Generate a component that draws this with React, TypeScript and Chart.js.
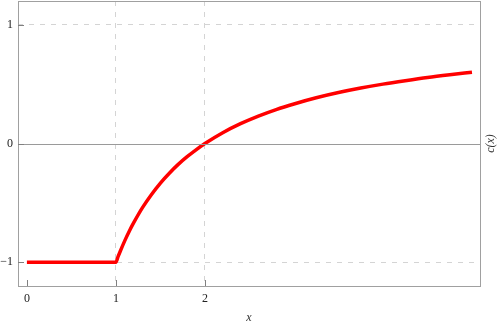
import React, { useEffect, useRef } from "react";
import { Chart, registerables } from "chart.js";

Chart.register(...registerables);

const xValues = [0, 1, 1.025, 1.05, 1.1, 1.15, 1.2, 1.3, 1.4, 1.5, 1.6, 1.7, 1.8, 1.9, 2, 2.2, 2.4, 2.6, 2.8, 3, 3.25, 3.5, 3.75, 4, 4.25, 4.5, 4.75, 5];
const cValues = [-1, -1, -0.951, -0.905, -0.818, -0.739, -0.667, -0.538, -0.429, -0.333, -0.25, -0.176, -0.111, -0.053, 0, 0.091, 0.167, 0.231, 0.286, 0.333, 0.385, 0.429, 0.467, 0.5, 0.529, 0.556, 0.579, 0.6];
const xTicks = [0, 1, 2];
const yTicks = [-1, 0, 1];
const xTitle = "x";
const yTitle = "c(x)";

const SERIF = "'Liberation Serif', 'Times New Roman', 'DejaVu Serif', serif";

const fmt = (v: number) => (v < 0 ? "\u2212" + Math.abs(v) : String(v));

const framePlugin = {
  id: "frame",
  afterDraw(chart: any) {
    const { ctx, chartArea: a, scales } = chart;
    const xs = scales.x;
    const ys = scales.y;
    ctx.save();
    ctx.strokeStyle = "#9a9a9a";
    ctx.lineWidth = 1;
    const y0 = Math.round(ys.getPixelForValue(0)) + 0.5;
    ctx.beginPath();
    ctx.moveTo(a.left, y0);
    ctx.lineTo(a.right, y0);
    ctx.stroke();
    ctx.strokeStyle = "#a0a0a0";
    ctx.strokeRect(Math.round(a.left) + 0.5, Math.round(a.top) + 0.5, Math.round(a.right - a.left), Math.round(a.bottom - a.top));
    ctx.strokeStyle = "#808080";
    ctx.beginPath();
    for (const v of xTicks) {
      const px = Math.round(xs.getPixelForValue(v)) + 0.5;
      ctx.moveTo(px, a.bottom);
      ctx.lineTo(px, a.bottom - 6);
    }
    for (const v of yTicks) {
      const py = Math.round(ys.getPixelForValue(v)) + 0.5;
      ctx.moveTo(a.left, py);
      ctx.lineTo(a.left + 6, py);
    }
    ctx.stroke();
    ctx.fillStyle = "#333";
    ctx.font = "italic 12px " + SERIF;
    ctx.textAlign = "center";
    ctx.textBaseline = "middle";
    ctx.fillText(xTitle, (a.left + a.right) / 2, 318);
    ctx.translate(491, (a.top + a.bottom) / 2);
    ctx.rotate(-Math.PI / 2);
    ctx.fillText(yTitle, 0, 0);
    ctx.restore();
  },
};

const zeroPad = (s: any) => {
  s.paddingTop = 0;
  s.paddingBottom = 0;
  s.paddingLeft = 0;
  s.paddingRight = 0;
};

export default function App() {
  const ref = useRef<HTMLCanvasElement | null>(null);
  useEffect(() => {
    if (!ref.current) return;
    const chart = new Chart(ref.current, {
      type: "line",
      data: {
        datasets: [
          {
            data: xValues.map((x, i) => ({ x, y: cValues[i] })),
            borderColor: "#ff0000",
            borderWidth: 3.5,
            pointRadius: 0,
            cubicInterpolationMode: "monotone",
            fill: false,
          },
        ],
      },
      options: {
        animation: false,
        responsive: false,
        maintainAspectRatio: false,
        layout: { padding: { top: 1, right: 20, left: 0, bottom: 0 } },
        plugins: { legend: { display: false }, tooltip: { enabled: false } },
        scales: {
          x: {
            type: "linear",
            min: -0.1,
            max: 5.09,
            afterBuildTicks: (s: any) => {
              s.ticks = xTicks.map((v) => ({ value: v }));
            },
            afterFit: (s: any) => {
              s.height = 38;
              zeroPad(s);
            },
            grid: {
              drawTicks: false,
              color: (c: any) => (c.tick && c.tick.value === 0 ? "rgba(0,0,0,0)" : "#d4d4d4"),
              lineWidth: 1,
            },
            border: { display: false, dash: [5, 6] },
            ticks: {
              padding: 6,
              color: "#222",
              font: { family: SERIF, size: 12 },
              callback: (v: any) => fmt(Number(v)),
              maxRotation: 0,
            },
          },
          y: {
            type: "linear",
            min: -1.2,
            max: 1.2,
            afterBuildTicks: (s: any) => {
              s.ticks = yTicks.map((v) => ({ value: v }));
            },
            afterFit: (s: any) => {
              s.width = 18;
              zeroPad(s);
            },
            grid: {
              drawTicks: false,
              color: (c: any) => (c.tick && c.tick.value === 0 ? "rgba(0,0,0,0)" : "#d4d4d4"),
              lineWidth: 1,
            },
            border: { display: false, dash: [5, 6] },
            ticks: {
              padding: 5,
              color: "#222",
              font: { family: SERIF, size: 12 },
              callback: (v: any) => fmt(Number(v)),
            },
          },
        },
      } as any,
      plugins: [framePlugin],
    });
    return () => chart.destroy();
  }, []);
  return (
    <div style={{ position: "absolute", left: 0, top: 0, width: 500, height: 324, background: "#fff" }}>
      <canvas ref={ref} width={500} height={324} />
    </div>
  );
}
